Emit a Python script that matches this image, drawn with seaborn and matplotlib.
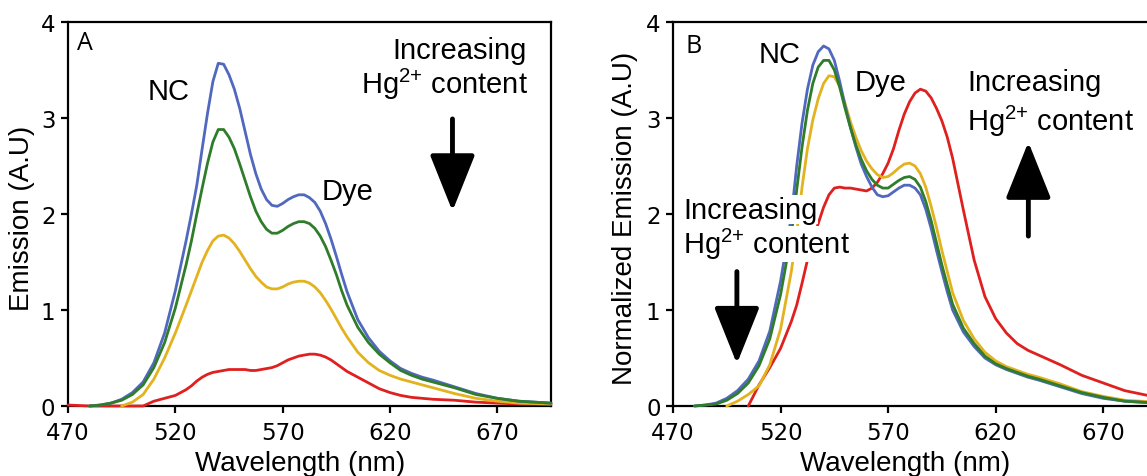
import numpy as np
import pandas as pd
import matplotlib
matplotlib.use("Agg")
import matplotlib.pyplot as plt
import seaborn as sns

# ---------------- data ----------------
wavelength = [470, 480, 485, 490, 495, 500, 505, 510, 515, 520, 525,
              527.5, 530, 532.5, 535, 537.5, 540, 542.5, 545, 547.5, 550,
              552.5, 555, 557.5, 560, 562.5, 565, 567.5, 570, 572.5, 575,
              577.5, 580, 582.5, 585, 587.5, 590, 592.5, 595, 597.5, 600,
              605, 610, 615, 620, 625, 630, 635, 640, 650, 660, 670, 680, 695]
N = np.nan

# Panel A: raw emission
a_blue = [N, 0.0, 0.01, 0.03, 0.07, 0.14, 0.25, 0.45, 0.76, 1.2, 1.72,
          2.0, 2.3, 2.68, 3.05, 3.38, 3.57, 3.56, 3.45, 3.3, 3.1,
          2.86, 2.62, 2.42, 2.26, 2.15, 2.09, 2.08, 2.11, 2.15, 2.18,
          2.2, 2.2, 2.17, 2.12, 2.03, 1.9, 1.74, 1.56, 1.37, 1.19,
          0.9, 0.71, 0.57, 0.47, 0.39, 0.34, 0.3, 0.27, 0.2, 0.13, 0.08, 0.05, 0.03]
a_green = [N, 0.0, 0.01, 0.03, 0.06, 0.12, 0.22, 0.4, 0.66, 1.02, 1.47,
           1.72, 2.0, 2.27, 2.53, 2.75, 2.88, 2.88, 2.8, 2.68, 2.52,
           2.35, 2.18, 2.03, 1.92, 1.84, 1.8, 1.8, 1.83, 1.87, 1.9,
           1.92, 1.92, 1.9, 1.85, 1.77, 1.66, 1.52, 1.37, 1.2, 1.05,
           0.82, 0.66, 0.54, 0.45, 0.37, 0.32, 0.28, 0.25, 0.19, 0.12, 0.08, 0.05, 0.03]
a_yellow = [N, N, N, N, 0.0, 0.04, 0.12, 0.28, 0.5, 0.76, 1.05,
            1.2, 1.35, 1.5, 1.62, 1.72, 1.77, 1.78, 1.75, 1.69, 1.61,
            1.52, 1.43, 1.35, 1.29, 1.24, 1.22, 1.22, 1.24, 1.27, 1.29,
            1.3, 1.3, 1.28, 1.24, 1.18, 1.1, 1.01, 0.91, 0.81, 0.72,
            0.56, 0.45, 0.37, 0.32, 0.28, 0.25, 0.22, 0.19, 0.13, 0.08, 0.05, 0.03, 0.02]
a_red = [0.01, 0.0, 0.0, 0.0, 0.0, 0.0, 0.0, 0.05, 0.08, 0.11, 0.17,
         0.21, 0.26, 0.3, 0.33, 0.35, 0.36, 0.37, 0.38, 0.38, 0.38,
         0.38, 0.37, 0.37, 0.38, 0.39, 0.4, 0.42, 0.45, 0.48, 0.5,
         0.52, 0.53, 0.54, 0.54, 0.53, 0.51, 0.48, 0.44, 0.4, 0.36,
         0.3, 0.24, 0.18, 0.14, 0.11, 0.09, 0.08, 0.07, 0.06, 0.04, 0.03, 0.02, 0.02]

# Panel B: normalized emission
b_blue = [N, 0.0, 0.01, 0.03, 0.08, 0.16, 0.28, 0.47, 0.78, 1.3, 1.97,
          2.5, 2.95, 3.3, 3.55, 3.69, 3.75, 3.72, 3.6, 3.38, 3.13,
          2.9, 2.7, 2.52, 2.39, 2.28, 2.2, 2.18, 2.19, 2.23, 2.27,
          2.3, 2.3, 2.27, 2.2, 2.05, 1.85, 1.62, 1.4, 1.19, 1.0,
          0.77, 0.62, 0.5, 0.43, 0.38, 0.34, 0.3, 0.27, 0.2, 0.13, 0.08, 0.05, 0.03]
b_green = [N, 0.0, 0.01, 0.02, 0.06, 0.13, 0.24, 0.42, 0.7, 1.16, 1.78,
           2.25, 2.7, 3.08, 3.36, 3.53, 3.6, 3.6, 3.5, 3.32, 3.1,
           2.9, 2.72, 2.57, 2.45, 2.36, 2.3, 2.27, 2.27, 2.31, 2.35,
           2.38, 2.39, 2.36, 2.28, 2.13, 1.93, 1.7, 1.47, 1.26, 1.06,
           0.81, 0.65, 0.52, 0.44, 0.39, 0.35, 0.31, 0.28, 0.21, 0.14, 0.09, 0.05, 0.03]
b_yellow = [N, N, N, N, 0.0, 0.05, 0.12, 0.21, 0.43, 0.8, 1.4,
            1.8, 2.28, 2.68, 2.98, 3.2, 3.36, 3.44, 3.43, 3.33, 3.15,
            2.96, 2.8, 2.66, 2.55, 2.47, 2.41, 2.38, 2.39, 2.43, 2.48,
            2.52, 2.53, 2.5, 2.42, 2.28, 2.08, 1.86, 1.62, 1.4, 1.18,
            0.89, 0.7, 0.56, 0.47, 0.41, 0.37, 0.33, 0.3, 0.23, 0.15, 0.1, 0.06, 0.04]
b_red = [N, N, N, N, N, N, 0.0, 0.22, 0.4, 0.6, 0.88,
         1.05, 1.28, 1.52, 1.72, 1.9, 2.07, 2.2, 2.27, 2.28, 2.27,
         2.27, 2.26, 2.25, 2.24, 2.27, 2.33, 2.42, 2.53, 2.68, 2.87,
         3.04, 3.17, 3.26, 3.3, 3.28, 3.21, 3.1, 2.97, 2.8, 2.58,
         2.04, 1.52, 1.14, 0.91, 0.76, 0.65, 0.58, 0.53, 0.43, 0.32, 0.24, 0.16, 0.09]

series_order = ["red", "yellow", "blue", "green"]
palette = {"blue": "#5068be", "green": "#2f7d2b", "yellow": "#e3b21f", "red": "#e01f1f"}
x_ticks = [470, 520, 570, 620, 670]
y_ticks = [0, 1, 2, 3, 4]


def long_df(blue, green, yellow, red):
    frames = []
    for name, vals in [("blue", blue), ("green", green), ("yellow", yellow), ("red", red)]:
        frames.append(pd.DataFrame({"wl": wavelength, "val": vals, "series": name}))
    return pd.concat(frames, ignore_index=True).dropna()


df_a = long_df(a_blue, a_green, a_yellow, a_red)
df_b = long_df(b_blue, b_green, b_yellow, b_red)

# ---------------- style ----------------
sns.set_style("white")
plt.rcParams["font.family"] = ["Liberation Sans", "DejaVu Sans"]
plt.rcParams["text.color"] = "black"
plt.rcParams["axes.labelcolor"] = "black"
plt.rcParams["xtick.color"] = "black"
plt.rcParams["ytick.color"] = "black"
plt.rcParams["mathtext.fontset"] = "custom"
plt.rcParams["mathtext.rm"] = "Liberation Sans"
plt.rcParams["mathtext.it"] = "Liberation Sans:italic"
plt.rcParams["mathtext.bf"] = "Liberation Sans:bold"

W, H = 1147, 477
fig = plt.figure(figsize=(W / 100, H / 100), dpi=100)
fig.patch.set_facecolor("white")

ax_a = fig.add_axes([68 / W, (H - 407) / H, 483 / W, 384 / H])
ax_b = fig.add_axes([673 / W, (H - 407) / H, 484 / W, 384 / H])

LABEL_FS = 20
NOTE_FS = 21
TICK_FS = 16.5
HG = r"Hg$^{2{+}}$ content"


def style_axes(ax, df, ylabel, ylab_x):
    sns.lineplot(data=df, x="wl", y="val", hue="series", hue_order=series_order,
                 palette=palette, legend=False, ax=ax, linewidth=2.0, sort=True)
    for ln in ax.lines:
        ln.set_zorder(3)
        ln.set_clip_on(False)
        ln.set_solid_joinstyle("round")
    ax.set_xlim(470, 695)
    ax.set_ylim(0, 4)
    ax.set_xticks(x_ticks)
    ax.set_yticks(y_ticks)
    ax.set_xticklabels([str(t) for t in x_ticks], fontfamily="DejaVu Sans", fontsize=TICK_FS)
    ax.set_yticklabels([str(t) for t in y_ticks], fontfamily="DejaVu Sans", fontsize=TICK_FS)
    for s in ax.spines.values():
        s.set_visible(True)
        s.set_color("black")
        s.set_linewidth(1.6)
    ax.tick_params(axis="both", direction="out", length=5, width=1.6, color="black",
                   labelcolor="black", left=True, bottom=True, pad=4)
    ax.tick_params(axis="x", pad=6)
    ax.set_xlabel("Wavelength (nm)", fontsize=LABEL_FS, color="black")
    ax.set_ylabel(ylabel, fontsize=LABEL_FS, color="black")
    ax.xaxis.set_label_coords(0.48, -0.115)
    ax.yaxis.set_label_coords(ylab_x, 0.49)
    ax.set_facecolor("white")


style_axes(ax_a, df_a, "Emission (A.U)", -0.068)
style_axes(ax_b, df_b, "Normalized Emission (A.U)", -0.072)


def arrow(ax, x, y_tail, y_tip):
    ax.annotate("", xy=(x, y_tip), xytext=(x, y_tail),
                arrowprops=dict(arrowstyle="-|>,head_length=1.1,head_width=0.44",
                                mutation_scale=32, lw=3.5, color="black",
                                shrinkA=0, shrinkB=0), zorder=5)


# Panel A annotations
ax_a.text(474.2, 3.72, "A", fontsize=18, fontfamily="Open Sans", va="baseline", ha="left")
ax_a.text(507.0, 3.20, "NC", fontsize=NOTE_FS, va="baseline", ha="left")
ax_a.text(588.0, 2.16, "Dye", fontsize=NOTE_FS, va="baseline", ha="left")
ax_a.text(683.5, 3.62, "Increasing", fontsize=NOTE_FS, va="baseline", ha="right")
ax_a.text(684.4, 3.26, HG, fontsize=NOTE_FS, va="baseline", ha="right")
arrow(ax_a, 649.1, 2.99, 2.03)

# Panel B annotations
ax_b.text(475.6, 3.69, "B", fontsize=18, fontfamily="Open Sans", va="baseline", ha="left")
ax_b.text(510.0, 3.58, "NC", fontsize=NOTE_FS, va="baseline", ha="left")
ax_b.text(554.6, 3.29, "Dye", fontsize=NOTE_FS, va="baseline", ha="left")
ax_b.text(606.9, 3.29, "Increasing", fontsize=NOTE_FS, va="baseline", ha="left")
ax_b.text(606.9, 2.87, HG, fontsize=NOTE_FS, va="baseline", ha="left")
ax_b.text(474.6, 1.96, "Increasing", fontsize=NOTE_FS, va="baseline", ha="left", zorder=4,
          bbox=dict(facecolor="white", edgecolor="none", pad=0.5))
ax_b.text(474.6, 1.59, HG, fontsize=NOTE_FS, va="baseline", ha="left",
          zorder=4, bbox=dict(facecolor="white", edgecolor="none", pad=0.5))
arrow(ax_b, 635.2, 1.77, 2.75)
arrow(ax_b, 499.7, 1.40, 0.44)

fig.savefig("out.png", dpi=100)
